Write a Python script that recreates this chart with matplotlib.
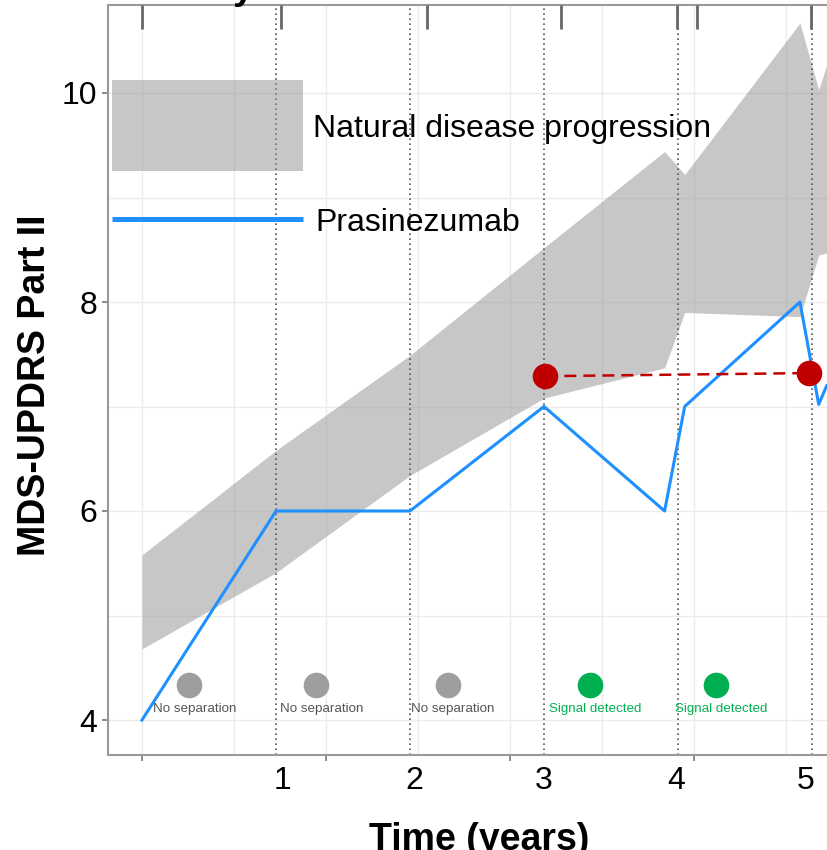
import numpy as np
import matplotlib
matplotlib.use("Agg")
import matplotlib.pyplot as plt
import matplotlib.transforms as mtransforms
from matplotlib.patches import Rectangle
from matplotlib.lines import Line2D

plt.rcParams['font.family'] = ['Liberation Sans', 'DejaVu Sans']

# Natural disease progression envelope (MDS-UPDRS Part II)
band_years = [0, 1, 2, 3, 3.9, 4.05, 4.91, 5.05, 5.11]
band_upper = [5.58, 6.58, 7.49, 8.52, 9.44, 9.22, 10.67, 10.03, 10.27]
band_lower = [4.68, 5.41, 6.34, 7.08, 7.37, 7.90, 7.86, 8.45, 8.47]

# Prasinezumab arm
drug_years = [0, 1, 2, 3, 3.9, 4.05, 4.91, 5.05, 5.11]
drug_values = [4.0, 6.0, 6.0, 7.0, 6.0, 7.0, 8.0, 7.02, 7.2]

# Comparison points joined by the dashed line
signal_years = [3.01, 4.98]
signal_values = [7.29, 7.32]

# Yearly separation status
status_years = [0.35, 1.30, 2.28, 3.34, 4.28]
status_labels = ["No separation", "No separation", "No separation",
                 "Signal detected", "Signal detected"]
status_level = 4.335
status_text_level = 4.11

# Visit markers along the top edge
visit_years = [0, 1.04, 2.13, 3.13, 3.99, 4.14, 4.99]

year_guides = [1, 2, 3, 4, 5]
year_label_pos = [1.05, 2.03, 3.0, 3.985, 4.955]
year_labels = ["1", "2", "3", "4", "5"]
score_ticks = [4, 6, 8, 10]
score_labels = ["4", "6", "8", "10"]

W, H = 827, 850
fig = plt.figure(figsize=(W / 100, H / 100), dpi=100)

# axes box in pixel terms (left, right, top, bottom spine positions)
L, R, T, B = 108, 827, 5, 755
ax = fig.add_axes([L / W, (H - B) / H, (R - L) / W, (B - T) / H])

px_per_year = 134.0
x0_px = 142.0
px_per_unit = 104.5
y4_px = 720.0
ax.set_xlim((L - x0_px) / px_per_year, (R - x0_px) / px_per_year)
ax.set_ylim(4 - (B - y4_px) / px_per_unit, 4 + (y4_px - T) / px_per_unit)

blue = "#1E90FF"
band_color = "#919191"
red = "#C00000"
green = "#00B050"
grid_color = "#EBEBEB"

# grid
grid_step = 92.0 / px_per_year
grid_x = np.arange(0, 5.2, grid_step)
ax.set_xticks(grid_x[::2])
ax.set_xticks(grid_x[1::2], minor=True)
ax.set_xticklabels([])
ax.set_yticks(score_ticks)
ax.set_yticklabels(score_labels)
ax.set_yticks([5, 7, 9], minor=True)
ax.grid(True, which="both", color=grid_color, lw=1.0)
ax.set_axisbelow(True)
ax.tick_params(axis="x", which="major", length=4, width=1.2, color="#777777",
               direction="out")
ax.tick_params(axis="x", which="minor", length=0)
ax.tick_params(axis="y", which="major", length=4, width=1.2, color="#777777",
               labelsize=23, pad=4)
ax.tick_params(axis="y", which="minor", length=0)

for side in ["left", "bottom", "top"]:
    ax.spines[side].set_color("#999999")
    ax.spines[side].set_linewidth(1.5)
ax.spines["right"].set_visible(False)

# year labels below the axis
sec = ax.secondary_xaxis("bottom")
sec.set_xticks(year_label_pos)
sec.set_xticklabels(year_labels)
sec.tick_params(length=0, labelsize=23, pad=8)
sec.spines["bottom"].set_visible(False)

# envelope
ax.fill_between(band_years, band_lower, band_upper, color=band_color,
                alpha=0.5, lw=0, zorder=1)

# yearly dotted guides
for yr in year_guides:
    ax.axvline(yr, color="#555555", lw=1.2, ls=(0, (1, 2)), zorder=2)

# visit markers on top
trans_top = mtransforms.blended_transform_factory(ax.transData, ax.transAxes)
ax.vlines(visit_years, 1 - 24 / (B - T), 1, transform=trans_top,
          color="#666666", lw=2, zorder=3, clip_on=False)

# treated arm
ax.plot(drug_years, drug_values, color=blue, lw=2.2, zorder=4)

# comparison points
ax.plot(signal_years, signal_values, color=red, lw=1.8, ls=(0, (4.8, 2.8)),
        zorder=5)
ax.scatter(signal_years, signal_values, s=340, color=red, zorder=6,
           linewidths=0)

# status markers
for yr, lab in zip(status_years, status_labels):
    detected = lab.startswith("Signal")
    dot_c = green if detected else "#9E9E9E"
    txt_c = green if detected else "#555555"
    ax.scatter([yr], [status_level], s=340, color=dot_c, zorder=6, linewidths=0)
    ax.text(yr + 0.04, status_text_level, lab, color=txt_c, fontsize=9.6,
            ha="center", va="center", zorder=6)

# legend drawn in axes fraction from pixel positions
def fx(px):
    return (px - L) / (R - L)

def fy(py):
    return (B - py) / (B - T)

ax.add_patch(Rectangle((fx(112), fy(171)), fx(303) - fx(112), fy(80) - fy(171),
                       transform=ax.transAxes, facecolor=band_color, alpha=0.5,
                       lw=0, zorder=7))
ax.add_line(Line2D([fx(112), fx(303)], [fy(219), fy(219)],
                   transform=ax.transAxes, color=blue, lw=3.6,
                   solid_capstyle="butt", zorder=7))
ax.text(fx(313), fy(137), "Natural disease progression", transform=ax.transAxes,
        fontsize=23, ha="left", va="baseline", zorder=7)
ax.text(fx(315), fy(231), "Prasinezumab", transform=ax.transAxes,
        fontsize=23, ha="left", va="baseline", zorder=7)

# axis titles
fig.text(35 / W, 1 - 385 / H, "MDS-UPDRS Part II", rotation=90,
         fontsize=27, fontweight="bold", ha="center", va="center")
fig.text(479 / W, 0.0, "Time (years)", fontsize=27, fontweight="bold",
         ha="center", va="baseline")
fig.text(254 / W, 1 + 1 / H, "Efficacy", fontsize=27, fontweight="bold",
         ha="right", va="baseline")

fig.savefig("out.png", dpi=100)
